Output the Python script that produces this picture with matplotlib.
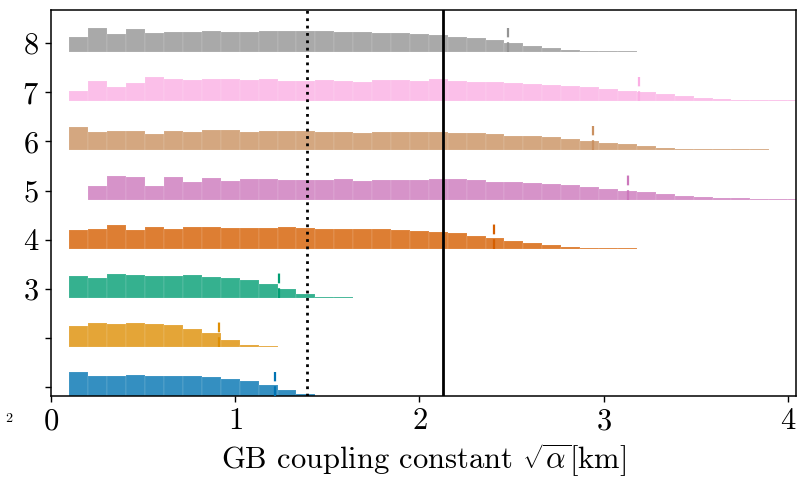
import numpy as np
import matplotlib
matplotlib.use("Agg")
import matplotlib.pyplot as plt
from matplotlib.colors import to_rgba

plt.rcParams['font.family'] = ['cmr10', 'DejaVu Serif']
plt.rcParams['mathtext.fontset'] = 'cm'
plt.rcParams['axes.formatter.use_mathtext'] = True

# ---- data ----
bin_start = 0.1
bin_width = 0.1027

row_positions = [1, 2, 3, 4, 5, 6, 7, 8]
row_labels = ['', '', '3', '4', '5', '6', '7', '8']
row_colors = ['#0173b2', '#de8f05', '#029e73', '#d55e00',
              '#cc78bc', '#ca9161', '#fbafe4', '#949494']
row_first_bin = [0, 0, 0, 0, 1, 0, 0, 0]

h1 = [0.497, 0.40, 0.408, 0.42, 0.415, 0.415, 0.40, 0.388, 0.354, 0.306, 0.231, 0.12, 0.04]
h2 = [0.42, 0.497, 0.463, 0.483, 0.47, 0.442, 0.374, 0.279, 0.136, 0.03, 0.016]
h3 = [0.44, 0.40, 0.495, 0.455, 0.445, 0.445, 0.456, 0.429, 0.408, 0.354, 0.28, 0.177,
      0.085, 0.026, 0.016]
h4 = [0.38, 0.408, 0.483, 0.38, 0.442, 0.395, 0.435, 0.449, 0.415, 0.43, 0.42, 0.435,
      0.415, 0.408, 0.408, 0.40, 0.395, 0.374, 0.355, 0.347, 0.313, 0.265, 0.218,
      0.163, 0.116, 0.075, 0.041, 0.024, 0.018, 0.015]
h5 = [0.28, 0.483, 0.463, 0.272, 0.456, 0.36, 0.435, 0.374, 0.42, 0.415, 0.395,
      0.408, 0.408, 0.42, 0.38, 0.408, 0.395, 0.405, 0.415, 0.41, 0.395, 0.367,
      0.36, 0.347, 0.327, 0.30, 0.25, 0.224, 0.184, 0.15, 0.109, 0.082, 0.048,
      0.032, 0.024, 0.02, 0.018, 0.016]
h6 = [0.483, 0.367, 0.395, 0.40, 0.333, 0.388, 0.38, 0.408, 0.415, 0.374, 0.40,
      0.395, 0.388, 0.367, 0.38, 0.347, 0.374, 0.38, 0.367, 0.367, 0.354, 0.347,
      0.333, 0.30, 0.286, 0.265, 0.238, 0.197, 0.156, 0.122, 0.082, 0.054, 0.036,
      0.028, 0.024, 0.022, 0.02]
h7 = [0.218, 0.415, 0.29, 0.38, 0.49, 0.45, 0.43, 0.456, 0.456, 0.43, 0.456, 0.41,
      0.41, 0.44, 0.415, 0.40, 0.435, 0.435, 0.42, 0.45, 0.42, 0.40, 0.395, 0.374,
      0.354, 0.327, 0.313, 0.286, 0.25, 0.218, 0.184, 0.143, 0.10, 0.068, 0.044,
      0.034, 0.027, 0.023, 0.02]
h8 = [0.32, 0.49, 0.374, 0.47, 0.40, 0.42, 0.42, 0.43, 0.42, 0.41, 0.435, 0.44,
      0.43, 0.43, 0.415, 0.415, 0.40, 0.39, 0.374, 0.354, 0.32, 0.28, 0.24, 0.184,
      0.136, 0.082, 0.048, 0.03, 0.024, 0.02]
heights = [h1, h2, h3, h4, h5, h6, h7, h8]

marker_x = [1.214, 0.913, 1.24, 2.405, 3.135, 2.94, 3.19, 2.48]
marker_height = 0.5

dotted_x = 1.39
solid_x = 2.13

xticks = [0, 1, 2, 3, 4]
xlabel = r'GB coupling constant $\sqrt{\alpha}$[km]'

# ---- plot ----
fig = plt.figure(figsize=(7.97, 4.83), dpi=100)
ax = fig.add_axes([0.064, 0.18, 0.9348, 0.799])

offset = 0.184
for pos, col, first, h, mx in zip(row_positions, row_colors, row_first_bin,
                                   heights, marker_x):
    base = pos - offset
    k = np.arange(first, first + len(h))
    left = bin_start + bin_width * k
    ax.bar(left, h, width=bin_width, bottom=base, align='edge',
           facecolor=to_rgba(col, 0.8), edgecolor=(1, 1, 1, 0.25),
           linewidth=0.35, zorder=2)
    ax.plot([mx, mx], [base, base + marker_height], color=col, lw=1.6,
            linestyle=(0, (4.4, 2.2)), solid_capstyle='butt',
            dash_capstyle='butt', zorder=3)

ax.axvline(dotted_x, color='black', lw=2, linestyle=(0, (1, 1.65)), zorder=4)
ax.axvline(solid_x, color='black', lw=2, zorder=4)

ax.set_xlim(0, 4.045)
ax.set_ylim(1 - offset, 8.673)
ax.set_xticks(xticks)
ax.set_xticklabels([f'${t}$' for t in xticks])
ax.set_yticks(row_positions)
ax.set_yticklabels([f'${l}$' if l else '' for l in row_labels])
ax.tick_params(axis='both', labelsize=22, length=4.5, width=1, pad=4)
ax.set_xlabel(xlabel, fontsize=22, labelpad=4)
for s in ax.spines.values():
    s.set_linewidth(1.1)

fig.text(0.006, 1 - 418 / 483, '$2$', fontsize=10, va='center', ha='left')

fig.savefig('out.png', dpi=100)
